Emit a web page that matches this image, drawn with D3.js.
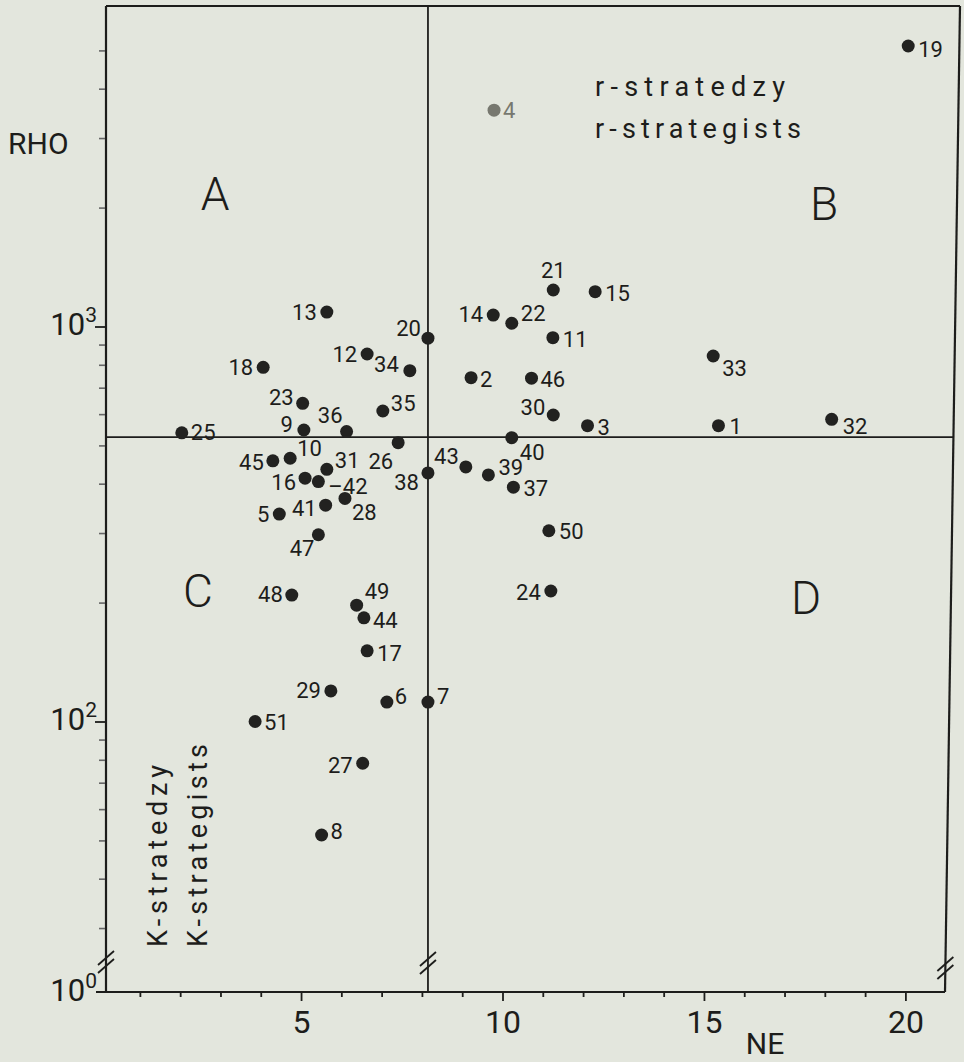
<!DOCTYPE html>
<html>
<head>
<meta charset="utf-8">
<script src="https://cdn.jsdelivr.net/npm/d3@7"></script>
<style>
  html, body { margin: 0; padding: 0; background: #e3e6dd; }
  svg { display: block; }
  text { font-family: Roboto, "Liberation Sans", "DejaVu Sans", sans-serif; fill: #1d1d1b; }
</style>
</head>
<body>
<svg id="chart" width="964" height="1062"></svg>
<script>
// Species numbers and their NE / RHO values
const speciesIds = d3.range(1, 52);
const neValues = [
  15.36, 9.22, 12.11, 9.79, 4.46, 7.13, 8.15, 5.51, 5.07, 4.73,
  11.25, 6.64, 5.64, 9.77, 12.30, 5.10, 6.64, 4.06, 20.07, 8.15,
  11.26, 10.23, 5.04, 11.20, 2.04, 7.41, 6.53, 6.09, 5.74, 11.26,
  5.64, 18.17, 15.23, 7.70, 7.03, 6.13, 10.27, 8.15, 9.65, 10.23,
  5.61, 5.43, 9.09, 6.56, 4.30, 10.72, 5.43, 4.77, 6.38, 11.15,
  3.86
];
const rhoValues = [
  561, 742, 561, 3530, 335, 112, 112, 51.6, 547, 464,
  937, 852, 1088, 1069, 1225, 413, 151, 788, 5130, 934,
  1237, 1019, 639, 214, 538, 508, 78.4, 367, 119.5, 597,
  435, 582, 842, 773, 611, 542, 392, 426, 421, 523,
  353, 405, 441, 183, 457, 740, 297, 209, 197, 304,
  100
];

// Quadrant boundaries
const dividerNE = 8.15;
const dividerRHO = 525;

// Axis labelling
const xTickValues = d3.range(1, 21);
const xTickLabels = [5, 10, 15, 20];
const yLabelPowers = [0, 2, 3];
const yMinorTicks = [30, 40, 50, 60, 70, 80, 90, 200, 300, 400, 500, 600, 700, 800, 900, 2000, 3000, 4000, 5000];
const quadrantNames = ["A", "B", "C", "D"];
const groupLabelsR = ["r-stratedzy", "r-strategists"];
const groupLabelsK = ["K-stratedzy", "K-strategists"];

// ---- layout ----
// the right edge of the hand-drawn frame leans slightly inward at the bottom
const frame = { left: 106, rightTop: 960, rightBottom: 945, top: 6, bottom: 992 };
const ink = "#1d1d1b";

const x = d3.scaleLinear().domain([0, 20]).range([99.6, 905.4]);
const y = d3.scaleLog().domain([100, 1000]).range([721.5, 326.5]);

// right frame edge at a given height
const rightEdgeAt = py => frame.rightTop + (frame.rightBottom - frame.rightTop) * (py - frame.top) / (frame.bottom - frame.top);

// label offsets from each dot: [dx, dy, anchor]
const labelPlacement = {
  1: [11, 8, "start"], 2: [9, 9, "start"], 3: [10, 9, "start"], 4: [9, 8, "start"],
  5: [-10, 8, "end"], 6: [8, 2, "start"], 7: [9, 2, "start"], 8: [9, 4, "start"],
  9: [-11, 2, "end"], 10: [7, -2, "start"], 11: [10, 9, "start"], 12: [-10, 8, "end"],
  13: [-10, 8, "end"], 14: [-10, 7, "end"], 15: [10, 9, "start"], 16: [-9, 12, "end"],
  17: [10, 10, "start"], 18: [-10, 8, "end"], 19: [10, 11, "start"], 20: [-7, -2, "end"],
  21: [0, -12, "middle"], 22: [9, -2, "start"], 23: [-9, 2, "end"], 24: [-10, 9, "end"],
  25: [9, 7, "start"], 26: [-5, 26, "end"], 27: [-10, 10, "end"], 28: [7, 21.5, "start"],
  29: [-10, 7, "end"], 30: [-8, 0, "end"], 31: [8, -1, "start"], 32: [11, 15, "start"],
  33: [9, 20, "start"], 34: [-11, 1, "end"], 35: [8, 0, "start"], 36: [-4, -9, "end"],
  37: [10, 9, "start"], 38: [-9, 17, "end"], 39: [10, 0, "start"], 40: [8, 22, "start"],
  41: [-9, 11, "end"], 42: [10, 12.5, "start"], 43: [-7, -3, "end"], 44: [9, 10, "start"],
  45: [-9, 9, "end"], 46: [9, 9, "start"], 47: [-4, 21, "end"], 48: [-9, 7, "end"],
  49: [8, -6, "start"], 50: [10, 8, "start"], 51: [9, 8, "start"]
};
const labelLeader = { 42: "\u2013" };
const faintIds = new Set([4]);

const quadrantPos = [[215, 210], [824, 220], [198, 607], [806, 614]];

const svg = d3.select("#chart");
svg.append("rect").attr("width", 964).attr("height", 1062).attr("fill", "#e3e6dd");

// ---- frame ----
const frameG = svg.append("g").attr("stroke", ink).attr("stroke-width", 2.2).attr("fill", "none");
frameG.append("line").attr("x1", frame.left).attr("x2", frame.left).attr("y1", frame.top).attr("y2", frame.bottom);
frameG.append("line").attr("x1", frame.left - 10).attr("x2", frame.rightBottom).attr("y1", frame.bottom).attr("y2", frame.bottom);
frameG.append("line").attr("x1", frame.left).attr("x2", frame.rightTop).attr("y1", frame.top).attr("y2", frame.top);
frameG.append("line").attr("x1", frame.rightTop).attr("x2", frame.rightBottom).attr("y1", frame.top).attr("y2", frame.bottom);

// quadrant dividers
frameG.append("line").attr("stroke-width", 1.8)
  .attr("x1", x(dividerNE)).attr("x2", x(dividerNE)).attr("y1", frame.top).attr("y2", frame.bottom);
frameG.append("line").attr("stroke-width", 1.8)
  .attr("x1", frame.left).attr("x2", rightEdgeAt(y(dividerRHO)))
  .attr("y1", y(dividerRHO)).attr("y2", y(dividerRHO));

// axis break marks
function breakMark(cx, cy) {
  const g = svg.append("g").attr("stroke", ink).attr("stroke-width", 1.8);
  [-4, 4].forEach(o => {
    g.append("line").attr("x1", cx - 8).attr("y1", cy + o + 7).attr("x2", cx + 8).attr("y2", cy + o - 7);
  });
}
breakMark(frame.left, 962);
breakMark(x(dividerNE), 963);
breakMark(rightEdgeAt(968), 968);

// ---- y axis ticks (log minor ticks and decade ticks) ----
const yAxisMinor = d3.axisLeft(y).tickValues(yMinorTicks).tickSize(6).tickFormat("");
const gyMinor = svg.append("g").attr("transform", `translate(${frame.left - 1},0)`).call(yAxisMinor);
gyMinor.select(".domain").remove();
gyMinor.selectAll(".tick line").attr("stroke", "#666").attr("stroke-width", 1.6);

const yAxisMajor = d3.axisLeft(y).tickValues([100, 1000]).tickSize(10).tickFormat("");
const gyMajor = svg.append("g").attr("transform", `translate(${frame.left - 1},0)`).call(yAxisMajor);
gyMajor.select(".domain").remove();
gyMajor.selectAll(".tick line").attr("stroke", ink).attr("stroke-width", 1.8);

// decade labels (10^0 sits on the broken bottom of the axis)
yLabelPowers.forEach(p => {
  const py = p === 0 ? frame.bottom + 9 : y(Math.pow(10, p)) + 8;
  const t = svg.append("text").attr("x", 97).attr("y", py).attr("text-anchor", "end")
    .style("font-size", "31px");
  t.append("tspan").text("10");
  t.append("tspan").attr("dy", -13).style("font-size", "21px").text(String(p));
});

// ---- x axis ticks ----
const xAxisMinor = d3.axisBottom(x).tickValues(xTickValues).tickSize(4).tickFormat("");
const gx = svg.append("g").attr("transform", `translate(0,${frame.bottom + 1})`).call(xAxisMinor);
gx.select(".domain").remove();
gx.selectAll(".tick line").attr("stroke", ink).attr("stroke-width", 1.8)
  .attr("y2", d => xTickLabels.includes(d) ? 8 : 4);

const xAxisLabels = d3.axisBottom(x).tickValues(xTickLabels).tickSize(0).tickPadding(14);
const gxl = svg.append("g").attr("transform", `translate(0,${frame.bottom + 1})`).call(xAxisLabels);
gxl.select(".domain").remove();
gxl.selectAll(".tick text").attr("dy", 0).attr("y", 40)
  .style("font-size", "32px").attr("fill", ink)
  .style("font-family", "Roboto, 'Liberation Sans', sans-serif");

// axis titles
svg.append("text").attr("x", 765).attr("y", 1054).attr("text-anchor", "middle")
  .style("font-size", "30px").text("NE");
svg.append("text").attr("x", 8).attr("y", 154).style("font-size", "30px").text("RHO");

// ---- quadrant letters ----
svg.selectAll("text.quad").data(quadrantNames).join("text")
  .attr("class", "quad")
  .attr("x", (d, i) => quadrantPos[i][0]).attr("y", (d, i) => quadrantPos[i][1])
  .attr("text-anchor", "middle").style("font-size", "46px").style("font-weight", 300)
  .text(d => d);

// ---- strategy group labels ----
svg.selectAll("text.rlab").data(groupLabelsR).join("text")
  .attr("class", "rlab")
  .attr("x", 595).attr("y", (d, i) => 96 + i * 42)
  .attr("textLength", (d, i) => i === 0 ? 190 : 206).attr("lengthAdjust", "spacing")
  .style("font-size", "27px").text(d => d);

svg.selectAll("text.klab").data(groupLabelsK).join("text")
  .attr("class", "klab")
  .attr("transform", (d, i) => `translate(${167 + i * 40},947) rotate(-90)`)
  .attr("textLength", (d, i) => i === 0 ? 182 : 203).attr("lengthAdjust", "spacing")
  .style("font-size", "27px").text(d => d);

// ---- points ----
const points = speciesIds.map((id, i) => ({ id, ne: neValues[i], rho: rhoValues[i] }));

svg.append("g").selectAll("circle").data(points).join("circle")
  .attr("cx", d => x(d.ne)).attr("cy", d => y(d.rho)).attr("r", 6.5)
  .attr("fill", d => faintIds.has(d.id) ? "#77786f" : "#222220");

svg.append("g").selectAll("text").data(points).join("text")
  .attr("x", d => x(d.ne) + labelPlacement[d.id][0])
  .attr("y", d => y(d.rho) + labelPlacement[d.id][1])
  .attr("text-anchor", d => labelPlacement[d.id][2])
  .style("font-size", "22px")
  .style("fill", d => faintIds.has(d.id) ? "#77786f" : ink)
  .text(d => (labelLeader[d.id] || "") + d.id);
</script>
</body>
</html>
